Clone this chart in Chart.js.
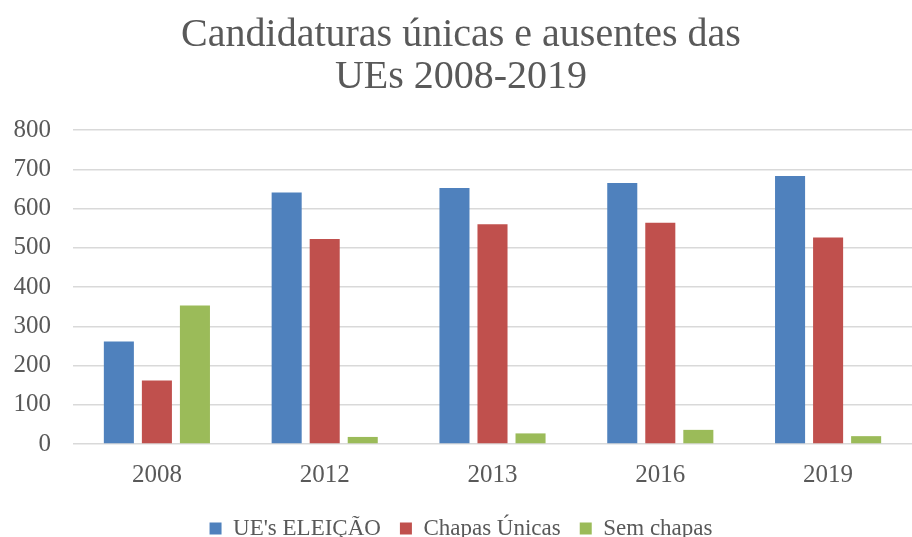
<!DOCTYPE html>
<html>
<head>
<meta charset="utf-8">
<script src="https://cdn.jsdelivr.net/npm/chart.js@4"></script>
<style>
  html, body { margin: 0; padding: 0; background: #fff; overflow: hidden; }
  #wrap { width: 912px; height: 550px; }
</style>
</head>
<body>
<div id="wrap"><canvas id="myChart"></canvas></div>
<script>
// data
var years = ['2008', '2012', '2013', '2016', '2019'];
var ueEleicao = [261, 641, 652, 665, 683];
var chapasUnicas = [162, 522, 560, 564, 526];
var semChapas = [353, 18, 27, 36, 20];
var yTicks = [0, 100, 200, 300, 400, 500, 600, 700, 800];

var serif = "'Liberation Serif', 'DejaVu Serif', serif";
var grey = '#595959';

function bars(label, data, color) {
  return {
    label: label,
    data: data,
    backgroundColor: color,
    borderWidth: 0,
    categoryPercentage: 0.68,
    barPercentage: 0.79
  };
}

var ctx = document.getElementById('myChart').getContext('2d');
var myChart = new Chart(ctx, {
  type: 'bar',
  data: {
    labels: years,
    datasets: [
      bars("UE's ELEIÇÃO", ueEleicao, '#4F81BD'),
      bars('Chapas Únicas', chapasUnicas, '#C0504D'),
      bars('Sem chapas', semChapas, '#9BBB59')
    ]
  },
  options: {
    responsive: true,
    maintainAspectRatio: false,
    animation: false,
    layout: { padding: { left: 10, right: 0, top: 14, bottom: 0 } },
    plugins: {
      title: {
        display: true,
        text: ['Candidaturas únicas e ausentes das', 'UEs 2008-2019'],
        color: grey,
        font: { family: serif, size: 40, weight: 'normal', lineHeight: 1.05 },
        padding: { top: 0, bottom: 32 }
      },
      legend: {
        position: 'bottom',
        labels: {
          color: grey,
          font: { family: serif, size: 23 },
          boxWidth: 12,
          boxHeight: 12,
          padding: 19
        }
      },
      tooltip: { enabled: false }
    },
    scales: {
      x: {
        grid: { display: false },
        border: { display: false },
        ticks: { color: grey, font: { family: serif, size: 25 }, padding: 8 }
      },
      y: {
        min: 0,
        max: 800,
        afterBuildTicks: function (axis) {
          axis.ticks = yTicks.map(function (v) { return { value: v }; });
        },
        afterFit: function (axis) { axis.width = 63; },
        grid: { color: '#D9D9D9', lineWidth: 1.5, drawTicks: false },
        border: { display: false },
        ticks: { color: grey, font: { family: serif, size: 25 }, padding: 22 }
      }
    }
  }
});
</script>
</body>
</html>
